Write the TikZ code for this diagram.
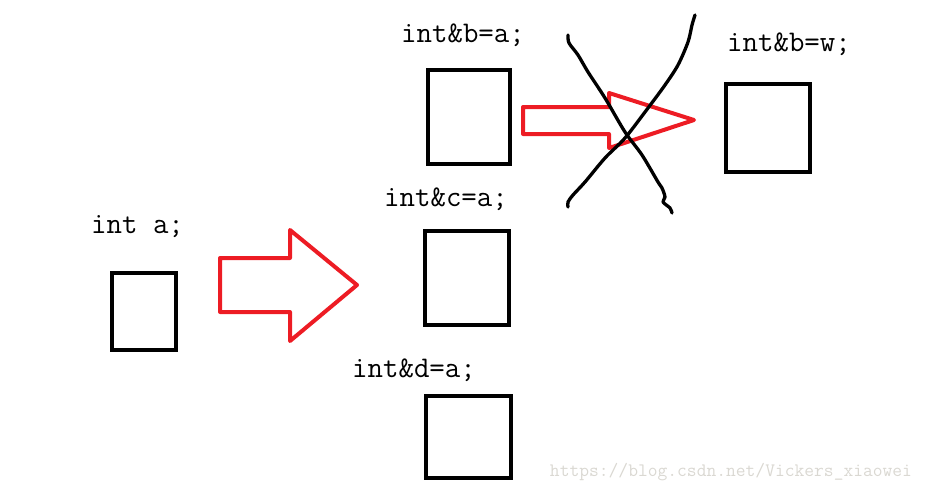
\documentclass[tikz,border=0pt]{standalone}
\usetikzlibrary{calc}

\definecolor{arrowred}{RGB}{237,28,36}
\definecolor{marklight}{RGB}{218,216,210}

\begin{document}
\begin{tikzpicture}[x=1pt, y=-1pt,
  mem/.style={draw=black, line width=4.5pt, inner sep=0, minimum width=#1},
  code/.style={anchor=base west, inner sep=0, font=\ttfamily\fontsize{30}{31}\selectfont},
  bigarrow/.style={draw=arrowred, line width=4pt, line join=round},
  strike/.style={draw=black, line width=3.3pt, line cap=round, line join=round}]
\useasboundingbox (0,0) rectangle (928,491);
% memory cells
\node[mem=64pt, minimum height=77pt] (cella) at (144,311.5) {};
\node[mem=82pt, minimum height=94pt] (cellb) at (469,117) {};
\node[mem=84pt, minimum height=88pt] (cellw) at (768,128) {};
\node[mem=84pt, minimum height=94pt] (cellc) at (467,278) {};
\node[mem=85pt, minimum height=82pt] (celld) at (468.5,437) {};
% declarations
\node[code] (decla) at (91,233) {int a;};
\node[code] (declb) at (401,42) {int\&b=a;};
\node[code] (declw) at (727,51) {int\&b=w;};
\node[code] (declc) at (384,206) {int\&c=a;};
\node[code] (decld) at (352,377) {int\&d=a;};
% hollow arrows
\draw[bigarrow] (220,258) -- (290,258) -- (290,230) -- (357,285) -- (290,341) -- (290,312) -- (220,312) -- cycle;
\draw[bigarrow] (523,107) -- (609,107) -- (609,93) -- (694,120) -- (609,148) -- (609,134) -- (523,134) -- cycle;
% crossed out
\draw[strike] plot[smooth, tension=0.5] coordinates {(568,35) (569,43) (578,55) (588,72) (605,98) (625,132) (642,155) (658,182) (662,188) (665,197) (663,202) (670,208) (672,213)};
\draw[strike] plot[smooth, tension=0.5] coordinates {(695,15) (692,25) (688,42) (678,65) (665,85) (648,108) (625,138) (605,158) (585,182) (573,195) (568,202) (568,207)};
% watermark
\node[anchor=center, inner sep=0, text=marklight, font=\ttfamily\fontsize{19}{20}\selectfont] (mark) at (731,472) {https://blog.csdn.net/Vickers\_xiaowei};
\end{tikzpicture}
\end{document}
